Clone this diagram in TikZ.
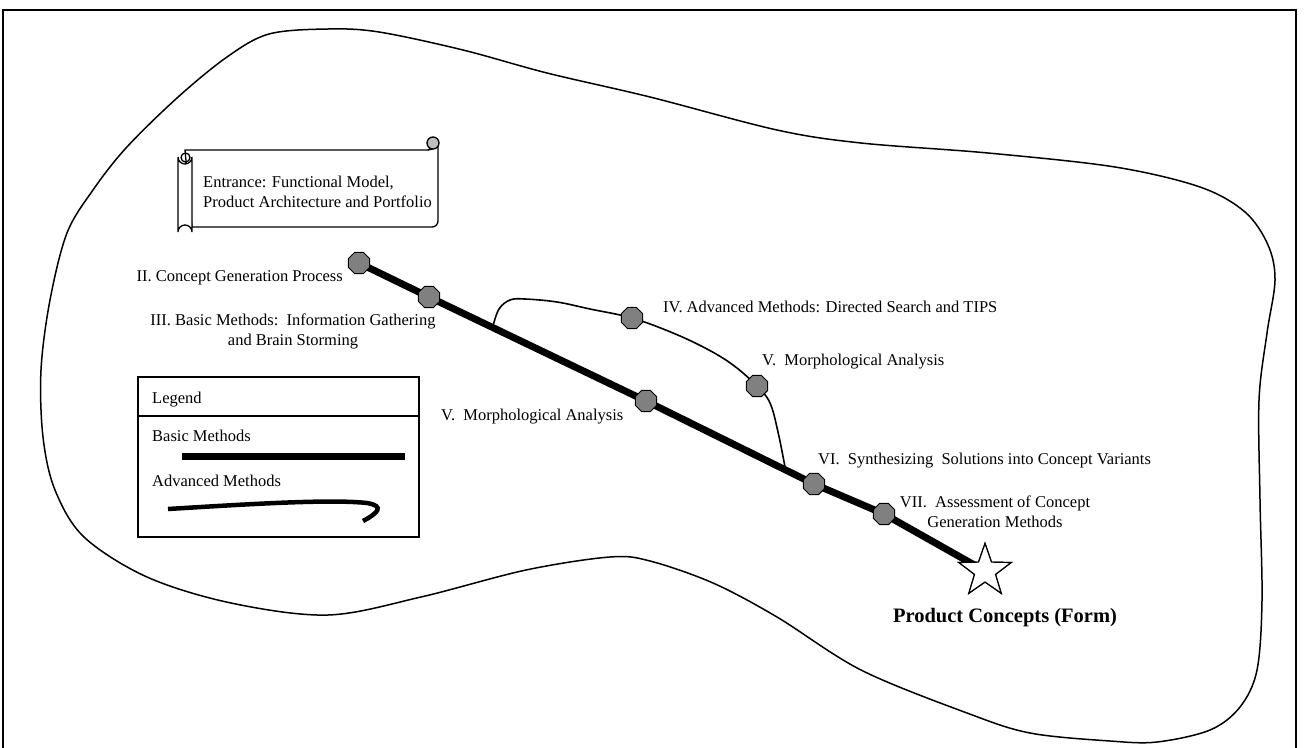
\documentclass[tikz,border=0pt]{standalone}
\usepackage{fontspec}
\setmainfont{Liberation Serif}
\usetikzlibrary{shapes.geometric}
\definecolor{octgray}{RGB}{128,128,128}
\definecolor{curlgray}{RGB}{190,190,190}
\begin{document}
\begin{tikzpicture}[x=1pt,y=-1pt,
  lbl/.style={inner sep=0pt, font=\fontsize{16.5}{20}\selectfont},
  octa/.style={regular polygon, regular polygon sides=8, minimum size=23pt, inner sep=0pt, draw=black, line width=1pt, fill=octgray},
  basicline/.style={line width=7pt},
  advline/.style={line width=1.6pt},
  thinline/.style={line width=1.3pt},
  starnode/.style={star, star points=5, star point ratio=2.5, minimum size=55pt, inner sep=0pt, draw=black, line width=1.2pt, fill=white}]
\useasboundingbox (0,0) rectangle (1308,747);
\fill[white] (0,0) rectangle (1308,747);
% frame
\draw[thinline] (3,760) -- (3,10) -- (1296,10) -- (1296,760);
% blob
\draw[line width=1.5pt] plot[smooth cycle, tension=0.55] coordinates {
 (328,29) (379,32) (463,50) (547,73) (650,97) (777,130) (861,143) (988,153)
 (1115,167) (1200,187) (1245,212) (1268,245) (1275,280) (1267,333) (1259,400)
 (1260,500) (1262,600) (1257,670) (1240,707) (1210,730) (1157,742) (1110,741)
 (1030,733) (967,713) (861,670) (777,617) (713,583) (650,561) (610,557)
 (526,570) (421,597) (328,615) (231,603) (147,577) (84,537) (55,490) (43,437)
 (41,370) (50,300) (67,233) (93,190) (126,148) (177,98) (227,57) (269,34)};
% scroll
\draw[thinline, fill=white] (185,150) -- (428,150) -- (438,143) -- (438,221)
  arc[start angle=0, end angle=90, radius=6] -- (192,227) -- cycle;
\draw[thinline, fill=curlgray] (433,143) circle (6);
\draw[thinline] (428,150) -- (433,149);
\draw[thinline, fill=white] (178,157) -- (178,232) arc[start angle=180, end angle=360, radius=7]
  -- (192,157) arc[start angle=0, end angle=180, radius=7] -- cycle;
\draw[thinline] (185.5,157.5) circle (4.5);
\node[lbl, anchor=west, align=left] (entr) at (203,192) {Entrance: Functional Model,\\Product Architecture and Portfolio};
% coordinates for junctions
\coordinate (j1) at (493,326);
\coordinate (j2) at (785,467);
% advanced path
\draw[advline] plot[smooth, tension=0.6] coordinates {(493,326) (499,309) (510,300) (525,299) (557,302) (590,309) (632,318) (673,333) (707,349) (733,365) (757,386) (770,403) (778,432) (785,467)};
% octagon positions
\coordinate (p2) at (359,263);
\coordinate (p3) at (429,297);
\coordinate (p5) at (646,401);
\coordinate (p6) at (814,484);
\coordinate (p7) at (884,514);
\node[starnode] (star) at (985,571) {};
\draw[basicline] (p2) -- (p3) -- (p5) -- (p6) -- (p7) -- (star.center);
\node[starnode] (star2) at (985,571) {};
\node[octa] (o2) at (p2) {};
\node[octa] (o3) at (p3) {};
\node[octa] (o5) at (p5) {};
\node[octa] (o6) at (p6) {};
\node[octa] (o7) at (p7) {};
\node[octa] (o4) at (632,318) {};
\node[octa] (o5b) at (757,386) {};
% labels
\node[lbl, anchor=east] (l2) at (343,278) {II.\ Concept Generation Process};
\node[lbl, align=center] (l3) at (293,331) {III.\ Basic Methods:\ \ Information Gathering\\and Brain Storming};
\node[lbl, anchor=west] (l4) at (663,307) {IV.\ Advanced Methods: Directed Search and TIPS};
\node[lbl, anchor=west] (l5b) at (762,362) {V.\ \ Morphological Analysis};
\node[lbl, anchor=west] (l5) at (441,417) {V.\ \ Morphological Analysis};
\node[lbl, anchor=west] (l6) at (818,461) {VI.\ \ Synthesizing\ \ Solutions into Concept Variants};
\node[lbl, align=center] (l7) at (995,512) {VII.\ \ Assessment of Concept\\Generation Methods};
\node[inner sep=0pt, font=\fontsize{20.5}{24}\selectfont\bfseries] (pc) at (1005,618) {Product Concepts (Form)};
% legend
\draw[thinline] (138,377) rectangle (419,537);
\draw[thinline] (138,416) -- (419,416);
\node[lbl, anchor=west] (lg) at (152,400) {Legend};
\node[lbl, anchor=west] (lb) at (152,436) {Basic Methods};
\node[lbl, anchor=west] (la) at (152,481) {Advanced Methods};
\coordinate (bl1) at (182,456);
\coordinate (bl2) at (405,456);
\draw[basicline] (bl1) -- (bl2);
\coordinate (al1) at (168,509);
\coordinate (al2) at (363,521);
\draw[line width=4.5pt] (al1) .. controls (250,504) and (330,499) .. (367,503) .. controls (385,506) and (378,513) .. (al2);
\end{tikzpicture}
\end{document}
